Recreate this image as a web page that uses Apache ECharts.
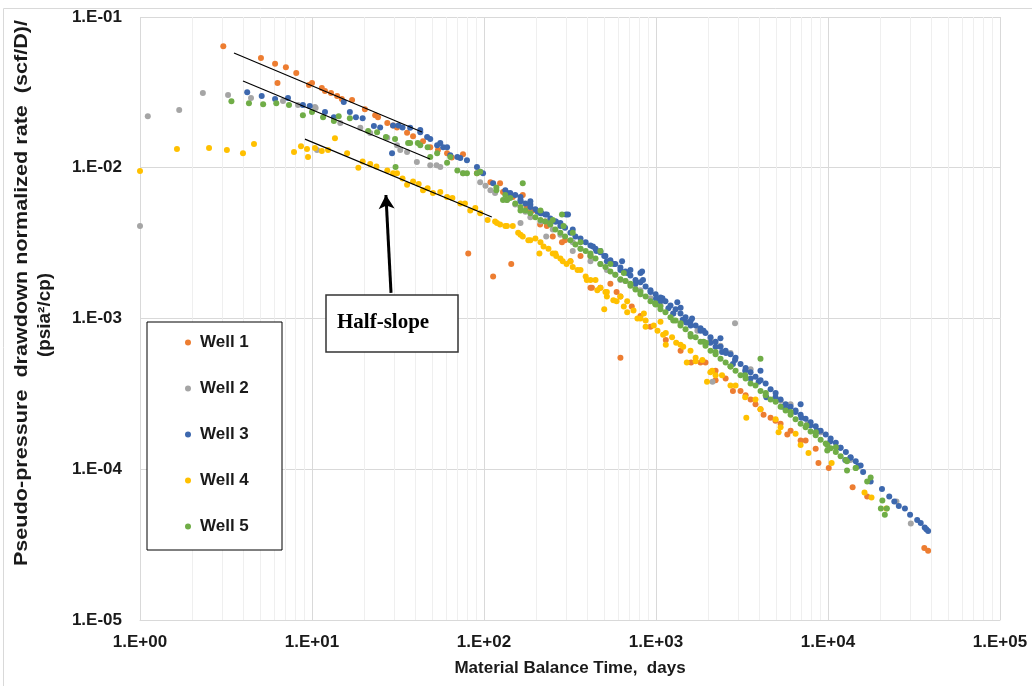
<!DOCTYPE html>
<html>
<head>
    <meta charset="utf-8">
    <title>rate vs material balance time</title>
    <script src="https://cdn.jsdelivr.net/npm/echarts@6/dist/echarts.min.js"></script>
    <style>
        html, body { margin: 0; padding: 0; background: #fff; }
        #chart { width: 1032px; height: 686px; }
    </style>
</head>
<body>
<div id="chart"></div>
<script>
    // data: [material balance time (days), normalized rate]
    var wellNames = ['Well 1', 'Well 2', 'Well 3', 'Well 4', 'Well 5'];
    var wellColors = ['#ED7D31', '#A5A5A5', '#3D68AE', '#FFC000', '#70AD47'];

    var well1 = [[3.05,0.064],[5.05,0.0535],[6.1,0.049],[7.05,0.0465],[8.1,0.0425],[6.3,0.0365],[9.6,0.0354],[10.0,0.0365],
        [11.4,0.0338],[11.9,0.0323],[12.9,0.0313],[14.0,0.0299],[14.9,0.0286],[17.1,0.0281],[20.3,0.0244],[23.3,0.0223],
        [24.2,0.0216],[27.4,0.0198],[29.6,0.0191],[31.2,0.0185],[35.7,0.0171],[38.7,0.0162],[44.2,0.015],[48.7,0.0137],
        [54,0.0131],[61,0.0125],[65,0.0117],[75.5,0.0123],[91,0.0092],[109,0.008],[124,0.0079],[129,0.0069],[147,0.0064],
        [168,0.0066],[177,0.0055],[186,0.0051],[192,0.0052],[212,0.0042],[227,0.0044],[232,0.0041],[251,0.0035],[284,0.0032],
        [296,0.0033],[318,0.0024],[364,0.0026],[416,0.0026],[416,0.0016],[424,0.0016],[475,0.0016],[543,0.0017],[590,0.0015],
        [621,0.0014],[723,0.0012],[812,0.00104],[929,0.00088],[1140,0.00072],[1390,0.00061],[1815,0.00051],[1940,0.00051],
        [2220,0.00045],[2220,0.00039],[2540,0.0004],[2800,0.00033],[3100,0.00033],[3320,0.00031],[3550,0.00029],[3790,0.00027],
        [4050,0.00025],[4220,0.00023],[4636,0.00022],[4950,0.00021],[5300,0.0002],[5800,0.00017],[6061,0.00018],[6930,0.000155],
        [7410,0.000155],[8480,0.000137],
        [81,0.0027],[113,0.0019],[144,0.0023],[621,0.00055],[1600,0.00051],[8800,0.00011],[10100,0.000102],[13900,0.000076],
        [16900,0.000066],[36300,0.00003],[38200,0.0000288]];

    var well2 = [[1.0,0.0041],[1.11,0.022],[1.69,0.0242],[2.32,0.0313],[3.25,0.0304],[4.42,0.029],[6.78,0.0277],[8.29,0.0261],
        [10.4,0.0253],[10.5,0.0249],[10.7,0.0131],[14.6,0.0198],[19.1,0.0184],[21.8,0.017],[27.4,0.0158],[31.2,0.0141],
        [32.6,0.0131],[35.7,0.0127],[40.7,0.0109],[48.7,0.0104],[53,0.0104],[55.7,0.0101],[75.5,0.0092],[95,0.008],[102,0.0076],
        [109,0.0071],[116,0.0068],[136,0.0061],[152,0.0057],[163,0.0043],[174,0.0051],[186,0.0047],[213,0.0044],[230,0.0035],
        [251,0.0039],[278,0.0036],[328,0.0032],[328,0.0028],[364,0.0029],[416,0.0026],[416,0.0024],[475,0.0023],[518,0.0021],
        [580,0.00195],[621,0.0018],[665,0.00177],[760,0.00158],[812,0.00154],[929,0.00136],[990,0.00125],[1062,0.00122],
        [1260,0.00108],[1485,0.00095],[1740,0.00083],[2075,0.00073],[2370,0.00066],[2712,0.00059],[3550,0.00046],[6060,0.00027],
        [9060,0.000176],[13500,0.000115],
        [2880,0.00093],[2130,0.00038],[5300,0.000285],[7600,0.0002],[25000,0.000061],[30300,0.0000437]];

    var well3 = [[4.2,0.0317],[5.1,0.0299],[6.1,0.0286],[7.25,0.029],[8.85,0.0261],[9.7,0.0257],[11.9,0.0234],[13.4,0.0216],
        [15.3,0.0273],[16.6,0.0234],[18,0.0216],[19.7,0.0213],[22.9,0.0189],[24.9,0.0185],[29.2,0.0125],[29.6,0.0191],
        [31.8,0.0191],[33.6,0.0185],[37.2,0.0184],[42.6,0.0178],[42.6,0.0172],[46.7,0.016],[48.7,0.0155],[53.4,0.0141],
        [55.7,0.0146],[57.9,0.0137],[61,0.0137],[63.7,0.0121],[70,0.0118],[72.8,0.0116],[79.6,0.0112],[91,0.0101],[95,0.0094],
        [98.7,0.0092],[113,0.0079],[133,0.0071],[136,0.0068],[142,0.0068],[142,0.0067],[152,0.0066],[163,0.0061],[163,0.0064],
        [163,0.006],[174,0.0058],[186,0.0057],[186,0.006],[186,0.0055],[199,0.0053],[205,0.0051],[213,0.005],[216,0.005],
        [227,0.0049],[232,0.0049],[243,0.0046],[260,0.0044],[262,0.0044],[278,0.0043],[278,0.0041],[300,0.0049],[296,0.004],
        [308,0.0049],[318,0.0037],[328,0.0039],[340,0.0035],[364,0.0034],[390,0.0032],[416,0.00305],[430,0.003],[445,0.0029],
        [450,0.0028],[475,0.0028],[475,0.00275],[500,0.0026],[508,0.0026],[518,0.0024],[543,0.00243],[570,0.0023],[580,0.0023],
        [621,0.0021],[621,0.00218],[635,0.0024],[665,0.00205],[680,0.002],[710,0.0021],[710,0.00193],[760,0.0017],[760,0.0018],
        [812,0.002],[812,0.00174],[830,0.00205],[840,0.0018],[870,0.00163],[929,0.0015],[929,0.00154],[995,0.00145],
        [1000,0.00135],[1060,0.0013],[1062,0.00138],[1090,0.00136],[1135,0.0013],[1180,0.00117],[1214,0.00122],[1260,0.00108],
        [1300,0.00115],[1330,0.00128],[1388,0.00108],[1390,0.00118],[1430,0.00098],[1485,0.00102],[1500,0.00094],[1587,0.00096],
        [1590,0.0009],[1620,0.001],[1700,0.0009],[1815,0.00083],[1815,0.00086],[1890,0.00083],[1940,0.0008],[2070,0.00069],
        [2075,0.00075],[2220,0.00065],[2220,0.0007],[2370,0.00074],[2372,0.00065],[2420,0.0006],[2540,0.00061],[2550,0.00059],
        [2712,0.00058],[2800,0.0005],[2880,0.00053],[2900,0.00055],[3101,0.0005],[3300,0.00045],[3320,0.00047],[3546,0.00044],
        [3550,0.0004],[3790,0.00041],[3950,0.00038],[4050,0.00045],[4054,0.00039],[4340,0.00037],[4380,0.0003],[4636,0.00034],
        [4950,0.0003],[4960,0.00032],[5300,0.00029],[5450,0.00026],[5670,0.00027],[5800,0.00025],[6061,0.00026],[6460,0.00024],
        [6480,0.000245],[6930,0.00027],[6930,0.00023],[7000,0.00022],[7410,0.000216],[7900,0.000195],[7923,0.000205],
        [8480,0.000193],[8600,0.00018],[8800,0.00018],[9060,0.00018],[9700,0.00017],[10300,0.000153],[10360,0.00016],
        [11100,0.00015],[11800,0.000139],[11840,0.000139],[12600,0.000115],[12700,0.00013],[13500,0.000119],[13540,0.00012],
        [14500,0.000113],[15000,0.000105],[15480,0.000106],[16000,0.000096],[17700,0.000083],[20600,0.000074],[22700,0.000066],
        [24300,0.000061],[25800,0.000057],[28000,0.000055],[30000,0.00005],[33000,0.000046],[34600,0.000044],[36500,0.000041],
        [37300,0.00004],[38200,0.000039]];

    var well4 = [[1.0,0.0095],[1.64,0.0133],[2.52,0.0135],[3.2,0.0131],[3.97,0.0125],[4.6,0.0144],[7.86,0.0127],[8.63,0.0139],
        [9.35,0.0133],[9.48,0.0118],[10.4,0.0135],[11.4,0.0129],[12.4,0.0131],[13.6,0.0157],[16.0,0.0125],[18.6,0.01],
        [19.7,0.011],[21.8,0.0106],[23.7,0.0102],[27.4,0.0096],[29.6,0.0092],[31.2,0.0092],[33.6,0.0085],[35.7,0.0077],
        [38.7,0.0081],[41.7,0.0078],[44.2,0.0071],[47,0.0073],[50.5,0.0068],[55.7,0.0069],[61,0.0064],[65.5,0.0063],
        [72.8,0.0058],[77.5,0.0058],[83.2,0.0052],[89,0.0054],[95,0.005],[105,0.0045],[116,0.0044],[119,0.0043],[124,0.0042],
        [133,0.0041],[136,0.0041],[147,0.0041],[158,0.0037],[163,0.0036],[168,0.0035],[181,0.0033],[186,0.0033],[199,0.0034],
        [210,0.0027],[213,0.0032],[222,0.003],[237,0.0029],[251,0.0027],[260,0.0027],[263,0.0026],[278,0.0025],[287,0.0024],
        [302,0.0023],[318,0.0024],[328,0.0022],[350,0.0021],[364,0.0021],[390,0.0019],[396,0.0018],[416,0.0018],[445,0.0018],
        [456,0.00154],[475,0.0016],[500,0.00115],[508,0.0015],[518,0.0015],[518,0.0014],[565,0.00132],[590,0.0013],[621,0.0014],
        [650,0.0012],[680,0.0013],[680,0.0011],[740,0.00113],[780,0.001],[812,0.001],[850,0.00108],[870,0.00097],[870,0.00088],
        [970,0.0009],[1020,0.00083],[1062,0.00095],[1100,0.00078],[1140,0.0008],[1140,0.00067],[1240,0.00075],[1310,0.00069],
        [1388,0.00067],[1440,0.00065],[1510,0.00051],[1587,0.00061],[1700,0.00055],[1700,0.00052],[1860,0.00053],[1980,0.00038],
        [2070,0.00044],[2120,0.00045],[2220,0.00042],[2420,0.00042],[2710,0.00036],[2900,0.00036],[3300,0.0003],[3350,0.00022],
        [3790,0.00029],[4050,0.00025],[4960,0.000215],[5160,0.000176],[5300,0.00019],[6480,0.000172],[6930,0.000145],
        [7700,0.000128],[10500,0.00011],[16300,0.00007],[17900,0.000065],[21800,0.000055]];

    var well5 = [[3.4,0.0276],[4.3,0.0268],[5.2,0.0264],[6.2,0.0268],[7.35,0.0261],[8.85,0.0223],[10,0.0234],[11.6,0.0216],
        [13.4,0.0204],[14.3,0.022],[16.6,0.0213],[21.2,0.0175],[23.9,0.0172],[26.9,0.016],[30.4,0.0155],[30.6,0.0101],
        [36.2,0.0146],[37.2,0.0146],[41.2,0.0146],[42.6,0.0141],[47,0.0137],[48.7,0.0118],[53.4,0.0125],[61,0.0108],
        [63.7,0.0118],[70,0.0096],[75.5,0.0092],[79.6,0.0092],[91,0.0092],[95,0.0094],[118,0.0074],[118,0.0071],[129,0.0061],
        [133,0.0066],[136,0.0061],[142,0.0063],[152,0.0058],[163,0.0052],[163,0.0055],[168,0.0079],[174,0.0052],[186,0.005],
        [199,0.0047],[213,0.0052],[213,0.0045],[227,0.0044],[243,0.0043],[243,0.0042],[251,0.0045],[260,0.0039],[278,0.0037],
        [284,0.0049],[290,0.0041],[296,0.0035],[318,0.0033],[328,0.0037],[340,0.0031],[364,0.0032],[364,0.0029],[390,0.0028],
        [416,0.0027],[416,0.0026],[445,0.0025],[475,0.0028],[475,0.0023],[508,0.0022],[543,0.0023],[543,0.00205],[580,0.00195],
        [621,0.00182],[650,0.002],[665,0.00177],[710,0.0017],[710,0.00165],[760,0.00156],[812,0.0015],[812,0.00145],[870,0.0014],
        [929,0.0013],[990,0.00126],[995,0.00124],[1060,0.0012],[1062,0.00115],[1135,0.0011],[1214,0.00102],[1260,0.00097],
        [1300,0.00097],[1388,0.0009],[1390,0.00093],[1485,0.00085],[1587,0.00079],[1590,0.00076],[1700,0.00075],[1815,0.0007],
        [1890,0.0007],[1940,0.00066],[1950,0.00069],[2075,0.00061],[2220,0.0006],[2220,0.00058],[2372,0.00054],[2540,0.00051],
        [2710,0.00048],[2712,0.00048],[2900,0.00045],[3101,0.00042],[3300,0.00042],[3320,0.0004],[3546,0.00037],[3790,0.00036],
        [4050,0.00054],[4054,0.00033],[4340,0.00031],[4350,0.00032],[4636,0.00029],[4960,0.00028],[5300,0.00026],[5670,0.000245],
        [6060,0.00024],[6061,0.00023],[6480,0.000215],[6930,0.0002],[7410,0.00019],[7500,0.000195],[7923,0.000178],
        [8480,0.000168],[8500,0.000176],[9060,0.000157],[9700,0.000148],[9900,0.000145],[9900,0.000133],[10360,0.000138],
        [11100,0.00014],[11100,0.00013],[11840,0.000122],[12700,0.000115],[12900,0.000113],[12900,0.000098],[14500,0.000102],
        [14500,0.000102],[16900,0.000083],[17700,0.000088],[20700,0.000062],[20300,0.000055],[21400,0.00005],[22000,0.000055]];

    // half-slope guide lines (end points) and the arrow
    var halfSlopeA = [[3.52, 0.0577], [43.6, 0.01726]];
    var halfSlopeB = [[3.97, 0.0376], [48.5, 0.01143]];
    var halfSlopeC = [[9.1, 0.01549], [111, 0.00471]];
    var arrowFrom = [28.8, 0.00148];
    var arrowTo = [26.9, 0.0066];

    var xTicksMinor = [];
    for (var k = 0; k < 5; k++) {
        for (var m = 2; m <= 9; m++) {
            xTicksMinor.push({ xAxis: m * Math.pow(10, k) });
        }
    }

    function expLabel(v) {
        var e = Math.round(Math.log10(v));
        var a = Math.abs(e);
        return '1.E' + (e < 0 ? '-' : '+') + (a < 10 ? '0' : '') + a;
    }

    var labelFont = "'Liberation Sans', Arial, sans-serif";

    var wells = [well1, well2, well3, well4, well5];
    var series = [];

    // minor vertical gridlines, kept under the points
    series.push({
        type: 'scatter',
        data: [],
        z: 1,
        silent: true,
        markLine: {
            silent: true,
            z: 1,
            symbol: 'none',
            label: { show: false },
            lineStyle: { color: '#EFEFEF', width: 1, type: 'solid' },
            data: xTicksMinor,
            animation: false
        }
    });

    for (var i = 0; i < wells.length; i++) {
        series.push({
            name: wellNames[i],
            type: 'scatter',
            data: wells[i],
            symbol: 'circle',
            symbolSize: 6,
            itemStyle: { color: wellColors[i], opacity: 1 },
            z: 3
        });
    }

    [halfSlopeA, halfSlopeB, halfSlopeC].forEach(function (ln) {
        series.push({
            type: 'line',
            data: ln,
            symbol: 'none',
            silent: true,
            lineStyle: { color: '#000', width: 1.2 },
            z: 4
        });
    });

    series.push({
        type: 'scatter',
        data: [],
        silent: true,
        z: 5,
        markLine: {
            silent: true,
            z: 6,
            symbol: ['none', 'arrow'],
            symbolSize: [12, 14],
            label: { show: false },
            lineStyle: { color: '#000', width: 3, type: 'solid' },
            data: [[{ coord: arrowFrom }, { coord: arrowTo }]],
            animation: false
        }
    });

    var chart = echarts.init(document.getElementById('chart'));

    var option = {
        animation: false,
        grid: { left: 140, right: 32, top: 17, bottom: 66 },
        xAxis: {
            type: 'log',
            logBase: 10,
            min: 1,
            max: 100000,
            name: 'Material Balance Time,  days',
            nameLocation: 'middle',
            nameGap: 40,
            nameTextStyle: { fontFamily: labelFont, fontWeight: 'bold', fontSize: 17, color: '#1a1a1a' },
            axisLine: { show: true, lineStyle: { color: '#D9D9D9' } },
            axisTick: { show: false },
            axisLabel: { formatter: expLabel, fontFamily: labelFont, fontWeight: 'bold', fontSize: 17, color: '#1a1a1a', margin: 14 },
            splitLine: { show: true, lineStyle: { color: '#D9D9D9' } }
        },
        yAxis: {
            type: 'log',
            logBase: 10,
            min: 0.00001,
            max: 0.1,
            axisLine: { show: false },
            axisTick: { show: false },
            axisLabel: { formatter: expLabel, fontFamily: labelFont, fontWeight: 'bold', fontSize: 17, color: '#1a1a1a', margin: 18 },
            splitLine: { show: true, lineStyle: { color: '#D9D9D9' } }
        },
        legend: {
            data: wellNames,
            orient: 'vertical',
            left: 185,
            top: 334,
            padding: 0,
            itemGap: 29,
            itemWidth: 6,
            itemHeight: 6,
            icon: 'circle',
            z: 20,
            textStyle: { fontFamily: labelFont, fontWeight: 'bold', fontSize: 17, lineHeight: 17, color: '#1a1a1a', padding: [0, 0, 0, 4] }
        },
        graphic: [
            { type: 'rect', left: 1, top: 6, shape: { width: 1029, height: 678 }, style: { fill: 'none', stroke: '#D9D9D9', lineWidth: 1 }, z: 0, silent: true },
            { type: 'rect', shape: { x: 147, y: 322, width: 135, height: 228 }, style: { fill: '#fff', stroke: '#000', lineWidth: 1 }, z: 10 },
            { type: 'rect', shape: { x: 326, y: 295, width: 132, height: 57 }, style: { fill: '#fff', stroke: '#333', lineWidth: 1.5 }, z: 10 },
            { type: 'text', x: 337, y: 323, style: { text: 'Half-slope', fontFamily: "'Liberation Serif', 'Times New Roman', serif", fontWeight: 'bold', fontSize: 21, fill: '#000', textVerticalAlign: 'middle' }, z: 11 },
            { type: 'text', x: 22, y: 293, rotation: Math.PI / 2, scaleX: 1.2, style: { text: 'Pseudo-pressure  drawdown normalized rate  (scf/D)/', fontFamily: labelFont, fontWeight: 'bold', fontSize: 18, fill: '#1a1a1a', textAlign: 'center', textVerticalAlign: 'middle' }, z: 10 },
            { type: 'text', x: 45, y: 315, rotation: Math.PI / 2, scaleX: 1.05, style: { text: '(psia\u00B2/cp)', fontFamily: labelFont, fontWeight: 'bold', fontSize: 18, fill: '#1a1a1a', textAlign: 'center', textVerticalAlign: 'middle' }, z: 10 }
        ],
        series: series
    };

    chart.setOption(option);
</script>
</body>
</html>
